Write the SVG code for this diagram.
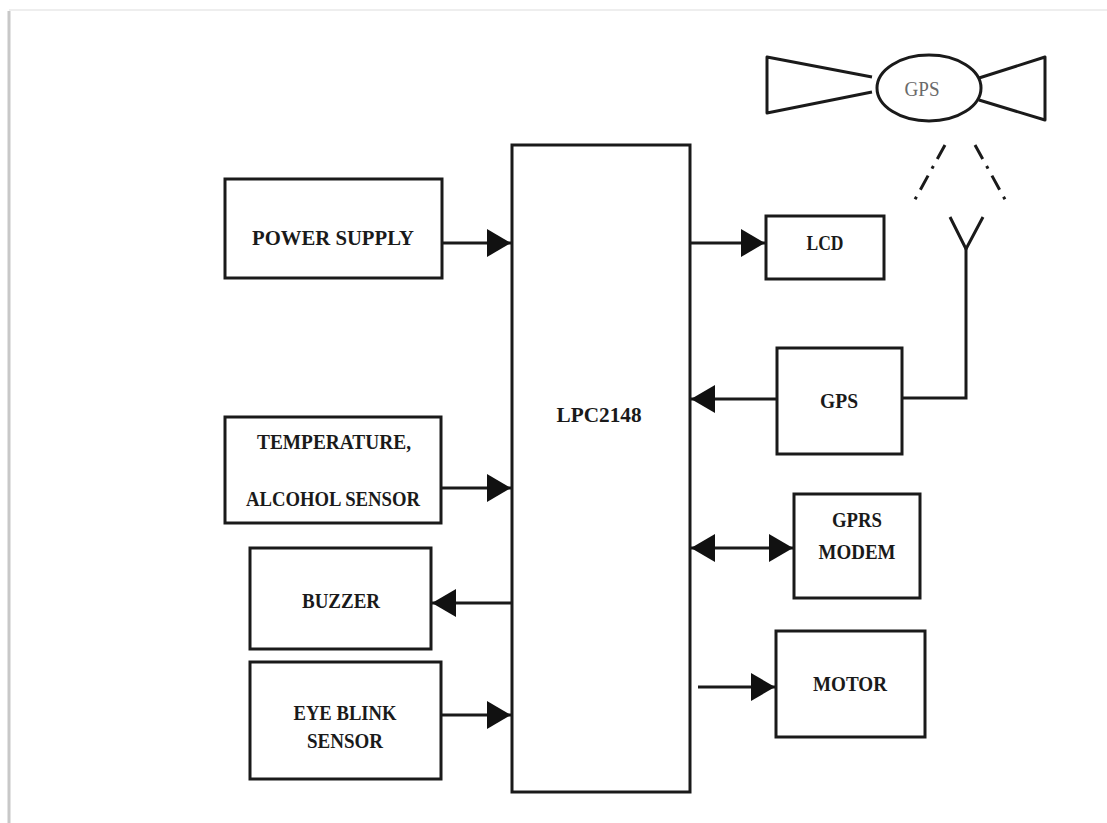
<svg xmlns="http://www.w3.org/2000/svg" width="1107" height="823" viewBox="0 0 1107 823">
<style>
.box{fill:#fff;stroke:#1a1a1a;stroke-width:3}
.lbl{font-family:"Liberation Serif",serif;font-weight:bold;font-size:22px;fill:#1a1a1a;text-anchor:middle}
.wire{fill:none;stroke:#1a1a1a;stroke-width:3}
.sat{fill:none;stroke:#1a1a1a;stroke-width:3;stroke-linejoin:round}
.dd{fill:none;stroke:#1a1a1a;stroke-width:3;stroke-dasharray:16 8 3 8}
</style>
<defs>
<marker id="ah" markerUnits="userSpaceOnUse" markerWidth="24" markerHeight="28" refX="24" refY="14" orient="auto-start-reverse">
<path d="M0,0 L24,14 L0,28 z" fill="#111"/>
</marker>
</defs>
<rect width="1107" height="823" fill="#fff"/>
<g id="frame">
<line x1="9" y1="11" x2="9" y2="823" stroke="#c8c8c8" stroke-width="3"/>
<line x1="9" y1="10" x2="1107" y2="10" stroke="#eeeeee" stroke-width="2"/>
</g>
<g id="satellite">
<polyline class="sat" points="872,77 767,57 767,113 872,92"/>
<polyline class="sat" points="979,78 1045,57 1045,120 979,100"/>
<ellipse class="sat" cx="929" cy="88" rx="52" ry="33"/>
<text x="922" y="96" font-family="Liberation Serif,serif" font-size="20" fill="#6a6a6a" text-anchor="middle" textLength="35" lengthAdjust="spacingAndGlyphs">GPS</text>
</g>
<g id="signal">
<line class="dd" x1="945" y1="145" x2="913" y2="203"/>
<line class="dd" x1="975" y1="145" x2="1007" y2="203"/>
</g>
<g id="lpc">
<rect class="box" x="512" y="145" width="178" height="647"/>
<text class="lbl" x="599" y="422" textLength="85" lengthAdjust="spacingAndGlyphs">LPC2148</text>
</g>
<g id="power">
<rect class="box" x="225" y="179" width="217" height="99"/>
<text class="lbl" x="333" y="245" textLength="162" lengthAdjust="spacingAndGlyphs">POWER SUPPLY</text>
</g>
<g id="temp">
<rect class="box" x="225" y="417" width="216" height="106"/>
<text class="lbl" x="334" y="449" textLength="154" lengthAdjust="spacingAndGlyphs">TEMPERATURE,</text>
<text class="lbl" x="333" y="506" textLength="174" lengthAdjust="spacingAndGlyphs">ALCOHOL SENSOR</text>
</g>
<g id="buzzer">
<rect class="box" x="250" y="548" width="181" height="101"/>
<text class="lbl" x="341" y="608" textLength="78" lengthAdjust="spacingAndGlyphs">BUZZER</text>
</g>
<g id="eyeblink">
<rect class="box" x="250" y="662" width="191" height="117"/>
<text class="lbl" x="345" y="720" textLength="103" lengthAdjust="spacingAndGlyphs">EYE BLINK</text>
<text class="lbl" x="345" y="748" textLength="76" lengthAdjust="spacingAndGlyphs">SENSOR</text>
</g>
<g id="lcd">
<rect class="box" x="766" y="216" width="118" height="63"/>
<text class="lbl" x="825" y="250" textLength="37" lengthAdjust="spacingAndGlyphs">LCD</text>
</g>
<g id="gps">
<rect class="box" x="777" y="348" width="125" height="106"/>
<text class="lbl" x="839" y="408" textLength="38" lengthAdjust="spacingAndGlyphs">GPS</text>
</g>
<g id="gprs">
<rect class="box" x="794" y="494" width="126" height="104"/>
<text class="lbl" x="857" y="527" textLength="50" lengthAdjust="spacingAndGlyphs">GPRS</text>
<text class="lbl" x="857" y="559" textLength="77" lengthAdjust="spacingAndGlyphs">MODEM</text>
</g>
<g id="motor">
<rect class="box" x="776" y="631" width="149" height="106"/>
<text class="lbl" x="850" y="691" textLength="74" lengthAdjust="spacingAndGlyphs">MOTOR</text>
</g>
<g id="antenna">
<polyline class="wire" points="950,217 966,249 983,217"/>
</g>
<g id="connectors">
<line class="wire" x1="442" y1="243" x2="511" y2="243" marker-end="url(#ah)"/>
<line class="wire" x1="690" y1="243" x2="765" y2="243" marker-end="url(#ah)"/>
<line class="wire" x1="776" y1="399" x2="691" y2="399" marker-end="url(#ah)"/>
<line class="wire" x1="691" y1="548" x2="793" y2="548" marker-start="url(#ah)" marker-end="url(#ah)"/>
<line class="wire" x1="698" y1="687" x2="775" y2="687" marker-end="url(#ah)"/>
<line class="wire" x1="441" y1="488" x2="511" y2="488" marker-end="url(#ah)"/>
<line class="wire" x1="511" y1="603" x2="432" y2="603" marker-end="url(#ah)"/>
<line class="wire" x1="441" y1="715" x2="511" y2="715" marker-end="url(#ah)"/>
<polyline class="wire" points="902,398 966,398 966,248"/>
</g>
</svg>
